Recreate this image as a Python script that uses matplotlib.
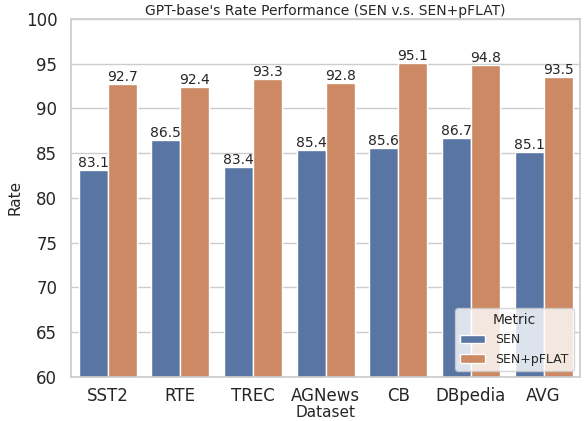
import matplotlib
matplotlib.use("Agg")
import matplotlib.pyplot as plt
import seaborn as sns
import pandas as pd

datasets = ["SST2", "RTE", "TREC", "AGNews", "CB", "DBpedia", "AVG"]
sen = [83.1, 86.5, 83.4, 85.4, 85.6, 86.7, 85.1]
sen_pflat = [92.7, 92.4, 93.3, 92.8, 95.1, 94.8, 93.5]


def main():
    sns.set_theme(style="whitegrid")
    df = pd.DataFrame({
        "Dataset": datasets * 2,
        "Rate": sen + sen_pflat,
        "Metric": ["SEN"] * len(datasets) + ["SEN+pFLAT"] * len(datasets),
    })

    fig, ax = plt.subplots(figsize=(5.84, 4.21), dpi=100)
    sns.barplot(data=df, x="Dataset", y="Rate", hue="Metric", ax=ax)
    for c in ax.containers:
        ax.bar_label(c, fmt="%.1f", fontsize=10)
    ax.set_ylim(60, 100)
    ax.set_title("GPT-base's Rate Performance (SEN v.s. SEN+pFLAT)", fontsize=10, pad=3)
    ax.tick_params(axis="y", labelsize=12, pad=4)
    ax.tick_params(axis="x", labelsize=12, pad=1)
    ax.set_xlabel("Dataset", fontsize=11, labelpad=0)
    ax.set_ylabel("Rate", fontsize=11, labelpad=2)
    ax.legend(title="Metric", loc="lower right", fontsize=9, title_fontsize=10)
    plt.subplots_adjust(left=0.122, right=0.993, top=0.955, bottom=0.105)
    plt.savefig("out.png")


if __name__ == "__main__":
    main()
